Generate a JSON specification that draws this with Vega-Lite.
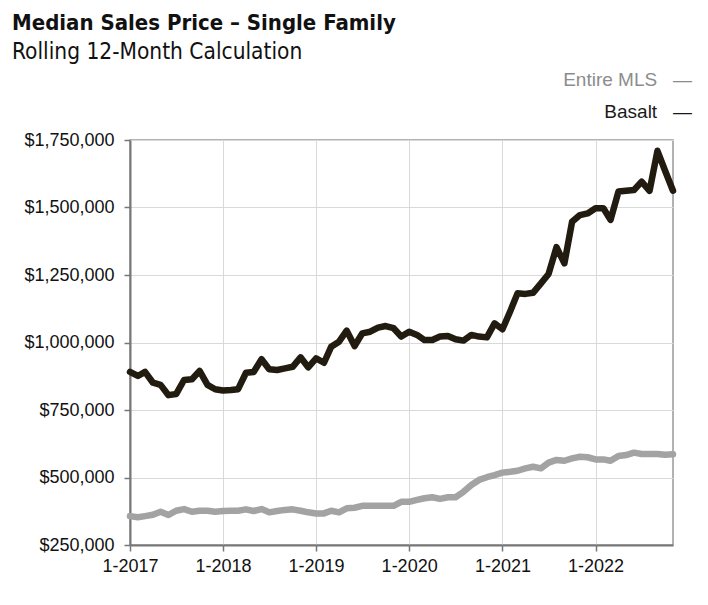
{
  "$schema": "https://vega.github.io/schema/vega-lite/v6.json",
  "autosize": {"type": "none"},
  "padding": {"left": 130, "top": 140, "right": 35, "bottom": 60},
  "width": 543,
  "height": 405,
  "background": "white",
  "title": {
    "text": "Median Sales Price – Single Family",
    "subtitle": "Rolling 12-Month Calculation",
    "anchor": "start",
    "frame": "group",
    "dx": -118,
    "offset": 6,
    "font": "'DejaVu Sans Condensed', 'Liberation Sans Narrow', Roboto, sans-serif",
    "fontSize": 22,
    "fontWeight": "bold",
    "color": "#111111",
    "subtitleFont": "'DejaVu Sans Condensed', 'Liberation Sans Narrow', Roboto, sans-serif",
    "subtitleFontSize": 22.5,
    "subtitleColor": "#111111",
    "subtitlePadding": 6
  },
  "config": {
    "view": {"stroke": "#999999", "strokeWidth": 1.5},
    "axis": {
      "labelFont": "Liberation Sans",
      "labelFontSize": 18,
      "labelColor": "#111111",
      "gridColor": "#d9d9d9",
      "gridWidth": 1,
      "domainColor": "#777777",
      "domainWidth": 2,
      "tickColor": "#777777",
      "tickSize": 6,
      "tickWidth": 1.5
    }
  },
  "data": {"values": [
    {"date": "2017-01-01", "series": "Basalt", "price": 891000},
    {"date": "2017-02-01", "series": "Basalt", "price": 876000},
    {"date": "2017-03-01", "series": "Basalt", "price": 891000},
    {"date": "2017-04-01", "series": "Basalt", "price": 851000},
    {"date": "2017-05-01", "series": "Basalt", "price": 843000},
    {"date": "2017-06-01", "series": "Basalt", "price": 805000},
    {"date": "2017-07-01", "series": "Basalt", "price": 809000},
    {"date": "2017-08-01", "series": "Basalt", "price": 861000},
    {"date": "2017-09-01", "series": "Basalt", "price": 864000},
    {"date": "2017-10-01", "series": "Basalt", "price": 895000},
    {"date": "2017-11-01", "series": "Basalt", "price": 843000},
    {"date": "2017-12-01", "series": "Basalt", "price": 827000},
    {"date": "2018-01-01", "series": "Basalt", "price": 822000},
    {"date": "2018-02-01", "series": "Basalt", "price": 824000},
    {"date": "2018-03-01", "series": "Basalt", "price": 827000},
    {"date": "2018-04-01", "series": "Basalt", "price": 888000},
    {"date": "2018-05-01", "series": "Basalt", "price": 891000},
    {"date": "2018-06-01", "series": "Basalt", "price": 938000},
    {"date": "2018-07-01", "series": "Basalt", "price": 901000},
    {"date": "2018-08-01", "series": "Basalt", "price": 898000},
    {"date": "2018-09-01", "series": "Basalt", "price": 904000},
    {"date": "2018-10-01", "series": "Basalt", "price": 910000},
    {"date": "2018-11-01", "series": "Basalt", "price": 945000},
    {"date": "2018-12-01", "series": "Basalt", "price": 908000},
    {"date": "2019-01-01", "series": "Basalt", "price": 941000},
    {"date": "2019-02-01", "series": "Basalt", "price": 925000},
    {"date": "2019-03-01", "series": "Basalt", "price": 984000},
    {"date": "2019-04-01", "series": "Basalt", "price": 1003000},
    {"date": "2019-05-01", "series": "Basalt", "price": 1044000},
    {"date": "2019-06-01", "series": "Basalt", "price": 987000},
    {"date": "2019-07-01", "series": "Basalt", "price": 1034000},
    {"date": "2019-08-01", "series": "Basalt", "price": 1040000},
    {"date": "2019-09-01", "series": "Basalt", "price": 1055000},
    {"date": "2019-10-01", "series": "Basalt", "price": 1061000},
    {"date": "2019-11-01", "series": "Basalt", "price": 1053000},
    {"date": "2019-12-01", "series": "Basalt", "price": 1022000},
    {"date": "2020-01-01", "series": "Basalt", "price": 1040000},
    {"date": "2020-02-01", "series": "Basalt", "price": 1028000},
    {"date": "2020-03-01", "series": "Basalt", "price": 1009000},
    {"date": "2020-04-01", "series": "Basalt", "price": 1009000},
    {"date": "2020-05-01", "series": "Basalt", "price": 1022000},
    {"date": "2020-06-01", "series": "Basalt", "price": 1024000},
    {"date": "2020-07-01", "series": "Basalt", "price": 1012000},
    {"date": "2020-08-01", "series": "Basalt", "price": 1007000},
    {"date": "2020-09-01", "series": "Basalt", "price": 1028000},
    {"date": "2020-10-01", "series": "Basalt", "price": 1022000},
    {"date": "2020-11-01", "series": "Basalt", "price": 1019000},
    {"date": "2020-12-01", "series": "Basalt", "price": 1071000},
    {"date": "2021-01-01", "series": "Basalt", "price": 1049000},
    {"date": "2021-02-01", "series": "Basalt", "price": 1117000},
    {"date": "2021-03-01", "series": "Basalt", "price": 1182000},
    {"date": "2021-04-01", "series": "Basalt", "price": 1180000},
    {"date": "2021-05-01", "series": "Basalt", "price": 1184000},
    {"date": "2021-06-01", "series": "Basalt", "price": 1219000},
    {"date": "2021-07-01", "series": "Basalt", "price": 1254000},
    {"date": "2021-08-01", "series": "Basalt", "price": 1353000},
    {"date": "2021-09-01", "series": "Basalt", "price": 1293000},
    {"date": "2021-10-01", "series": "Basalt", "price": 1447000},
    {"date": "2021-11-01", "series": "Basalt", "price": 1472000},
    {"date": "2021-12-01", "series": "Basalt", "price": 1478000},
    {"date": "2022-01-01", "series": "Basalt", "price": 1497000},
    {"date": "2022-02-01", "series": "Basalt", "price": 1497000},
    {"date": "2022-03-01", "series": "Basalt", "price": 1454000},
    {"date": "2022-04-01", "series": "Basalt", "price": 1559000},
    {"date": "2022-05-01", "series": "Basalt", "price": 1562000},
    {"date": "2022-06-01", "series": "Basalt", "price": 1565000},
    {"date": "2022-07-01", "series": "Basalt", "price": 1596000},
    {"date": "2022-08-01", "series": "Basalt", "price": 1562000},
    {"date": "2022-09-01", "series": "Basalt", "price": 1710000},
    {"date": "2022-10-01", "series": "Basalt", "price": 1636000},
    {"date": "2022-11-01", "series": "Basalt", "price": 1562000},
    {"date": "2017-01-01", "series": "Entire MLS", "price": 357000},
    {"date": "2017-02-01", "series": "Entire MLS", "price": 353000},
    {"date": "2017-03-01", "series": "Entire MLS", "price": 357000},
    {"date": "2017-04-01", "series": "Entire MLS", "price": 362000},
    {"date": "2017-05-01", "series": "Entire MLS", "price": 373000},
    {"date": "2017-06-01", "series": "Entire MLS", "price": 361000},
    {"date": "2017-07-01", "series": "Entire MLS", "price": 377000},
    {"date": "2017-08-01", "series": "Entire MLS", "price": 383000},
    {"date": "2017-09-01", "series": "Entire MLS", "price": 373000},
    {"date": "2017-10-01", "series": "Entire MLS", "price": 377000},
    {"date": "2017-11-01", "series": "Entire MLS", "price": 377000},
    {"date": "2017-12-01", "series": "Entire MLS", "price": 373000},
    {"date": "2018-01-01", "series": "Entire MLS", "price": 376000},
    {"date": "2018-02-01", "series": "Entire MLS", "price": 377000},
    {"date": "2018-03-01", "series": "Entire MLS", "price": 377000},
    {"date": "2018-04-01", "series": "Entire MLS", "price": 382000},
    {"date": "2018-05-01", "series": "Entire MLS", "price": 376000},
    {"date": "2018-06-01", "series": "Entire MLS", "price": 383000},
    {"date": "2018-07-01", "series": "Entire MLS", "price": 371000},
    {"date": "2018-08-01", "series": "Entire MLS", "price": 376000},
    {"date": "2018-09-01", "series": "Entire MLS", "price": 380000},
    {"date": "2018-10-01", "series": "Entire MLS", "price": 382000},
    {"date": "2018-11-01", "series": "Entire MLS", "price": 377000},
    {"date": "2018-12-01", "series": "Entire MLS", "price": 371000},
    {"date": "2019-01-01", "series": "Entire MLS", "price": 367000},
    {"date": "2019-02-01", "series": "Entire MLS", "price": 367000},
    {"date": "2019-03-01", "series": "Entire MLS", "price": 377000},
    {"date": "2019-04-01", "series": "Entire MLS", "price": 371000},
    {"date": "2019-05-01", "series": "Entire MLS", "price": 386000},
    {"date": "2019-06-01", "series": "Entire MLS", "price": 388000},
    {"date": "2019-07-01", "series": "Entire MLS", "price": 395000},
    {"date": "2019-08-01", "series": "Entire MLS", "price": 395000},
    {"date": "2019-09-01", "series": "Entire MLS", "price": 395000},
    {"date": "2019-10-01", "series": "Entire MLS", "price": 395000},
    {"date": "2019-11-01", "series": "Entire MLS", "price": 395000},
    {"date": "2019-12-01", "series": "Entire MLS", "price": 410000},
    {"date": "2020-01-01", "series": "Entire MLS", "price": 410000},
    {"date": "2020-02-01", "series": "Entire MLS", "price": 417000},
    {"date": "2020-03-01", "series": "Entire MLS", "price": 423000},
    {"date": "2020-04-01", "series": "Entire MLS", "price": 427000},
    {"date": "2020-05-01", "series": "Entire MLS", "price": 421000},
    {"date": "2020-06-01", "series": "Entire MLS", "price": 427000},
    {"date": "2020-07-01", "series": "Entire MLS", "price": 427000},
    {"date": "2020-08-01", "series": "Entire MLS", "price": 447000},
    {"date": "2020-09-01", "series": "Entire MLS", "price": 472000},
    {"date": "2020-10-01", "series": "Entire MLS", "price": 491000},
    {"date": "2020-11-01", "series": "Entire MLS", "price": 501000},
    {"date": "2020-12-01", "series": "Entire MLS", "price": 509000},
    {"date": "2021-01-01", "series": "Entire MLS", "price": 518000},
    {"date": "2021-02-01", "series": "Entire MLS", "price": 521000},
    {"date": "2021-03-01", "series": "Entire MLS", "price": 525000},
    {"date": "2021-04-01", "series": "Entire MLS", "price": 534000},
    {"date": "2021-05-01", "series": "Entire MLS", "price": 540000},
    {"date": "2021-06-01", "series": "Entire MLS", "price": 534000},
    {"date": "2021-07-01", "series": "Entire MLS", "price": 555000},
    {"date": "2021-08-01", "series": "Entire MLS", "price": 565000},
    {"date": "2021-09-01", "series": "Entire MLS", "price": 562000},
    {"date": "2021-10-01", "series": "Entire MLS", "price": 571000},
    {"date": "2021-11-01", "series": "Entire MLS", "price": 577000},
    {"date": "2021-12-01", "series": "Entire MLS", "price": 575000},
    {"date": "2022-01-01", "series": "Entire MLS", "price": 567000},
    {"date": "2022-02-01", "series": "Entire MLS", "price": 567000},
    {"date": "2022-03-01", "series": "Entire MLS", "price": 562000},
    {"date": "2022-04-01", "series": "Entire MLS", "price": 580000},
    {"date": "2022-05-01", "series": "Entire MLS", "price": 583000},
    {"date": "2022-06-01", "series": "Entire MLS", "price": 592000},
    {"date": "2022-07-01", "series": "Entire MLS", "price": 587000},
    {"date": "2022-08-01", "series": "Entire MLS", "price": 587000},
    {"date": "2022-09-01", "series": "Entire MLS", "price": 587000},
    {"date": "2022-10-01", "series": "Entire MLS", "price": 584000},
    {"date": "2022-11-01", "series": "Entire MLS", "price": 586000}
  ]},
  "mark": {"type": "line", "strokeWidth": 6.5, "strokeJoin": "round", "strokeCap": "round", "clip": false},
  "encoding": {
    "x": {
      "field": "date",
      "type": "temporal",
      "title": null,
      "scale": {"type": "utc", "domain": [{"year": 2017, "month": 1, "date": 1, "utc": true}, {"year": 2022, "month": 11, "date": 1, "utc": true}], "nice": false},
      "axis": {
        "labelExpr": "utcFormat(datum.value, '%-m-%Y')",
        "values": [
          {"year": 2017, "month": 1, "date": 1, "utc": true},
          {"year": 2018, "month": 1, "date": 1, "utc": true},
          {"year": 2019, "month": 1, "date": 1, "utc": true},
          {"year": 2020, "month": 1, "date": 1, "utc": true},
          {"year": 2021, "month": 1, "date": 1, "utc": true},
          {"year": 2022, "month": 1, "date": 1, "utc": true}
        ],
        "labelPadding": 6,
        "labelFlush": false,
        "labelOverlap": false
      }
    },
    "y": {
      "field": "price",
      "type": "quantitative",
      "title": null,
      "scale": {"domain": [250000, 1750000], "nice": false, "zero": false},
      "axis": {
        "values": [250000, 500000, 750000, 1000000, 1250000, 1500000, 1750000],
        "format": "$,.0f",
        "labelPadding": 10
      }
    },
    "color": {
      "field": "series",
      "type": "nominal",
      "scale": {"domain": ["Entire MLS", "Basalt"], "range": ["#a3a3a3", "#221c10"]},
      "legend": {
        "title": null,
        "orient": "none",
        "legendX": 543,
        "legendY": -70,
        "symbolSize": 0,
        "symbolOpacity": 0,
        "labelOffset": 0,
        "padding": 0,
        "rowPadding": 12,
        "labelAlign": "right",
        "labelFont": "Liberation Sans",
        "labelFontSize": 19,
        "labelLimit": 300,
        "labelExpr": "datum.label + '\u00a0\u00a0\u00a0—'",
        "encode": {
          "labels": {
            "update": {
              "fill": {"signal": "datum.value === 'Entire MLS' ? '#8c8c8c' : '#1a1a1a'"}
            }
          }
        }
      }
    }
  }
}
